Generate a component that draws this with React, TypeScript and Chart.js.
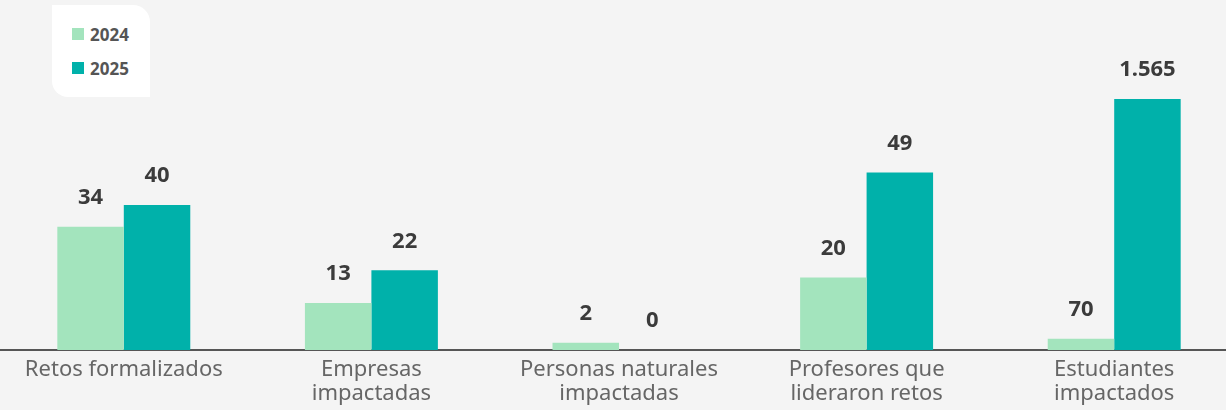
import React, { useEffect, useRef } from "react";
import { Chart, registerables } from "chart.js";

Chart.register(...registerables);

const categories: string[][] = [
  ["Retos formalizados"],
  ["Empresas", "impactadas"],
  ["Personas naturales", "impactadas"],
  ["Profesores que", "lideraron retos"],
  ["Estudiantes", "impactados"],
];
const seriesLabels = ["2024", "2025"];
const values2024 = [34, 13, 2, 20, 70];
const values2025 = [40, 22, 0, 49, 1565];
// categories drawn on the secondary (hidden) value axis
const secondaryIndexes = [4];
const colors = ["#a3e4bd", "#00b1aa"];

const FONT = "'Noto Sans', sans-serif";

function fmt(v: number): string {
  return String(v).replace(/\B(?=(\d{3})+(?!\d))/g, ".");
}

const valueLabels = {
  id: "valueLabels",
  afterDatasetsDraw(chart: any) {
    const ctx = chart.ctx;
    ctx.save();
    ctx.font = `bold 22px ${FONT}`;
    ctx.fillStyle = "#3b3b3b";
    ctx.textAlign = "center";
    ctx.textBaseline = "middle";
    chart.data.datasets.forEach((ds: any, di: number) => {
      const meta = chart.getDatasetMeta(di);
      meta.data.forEach((bar: any, i: number) => {
        const v = ds.data[i];
        if (v === null || v === undefined) return;
        ctx.fillText(fmt(v), bar.x, bar.y - 29);
      });
    });
    ctx.restore();
  },
};

export default function App() {
  const ref = useRef<HTMLCanvasElement | null>(null);

  useEffect(() => {
    document.body.style.margin = "0";
    document.body.style.background = "#f4f4f4";
    const series = [values2024, values2025];
    const datasets: any[] = [];
    series.forEach((vals, s) => {
      datasets.push({
        label: seriesLabels[s],
        data: vals.map((v, i) => (secondaryIndexes.includes(i) ? null : v)),
        backgroundColor: colors[s],
        stack: "s" + s,
        yAxisID: "y",
      });
    });
    series.forEach((vals, s) => {
      datasets.push({
        label: seriesLabels[s] + "b",
        data: vals.map((v, i) => (secondaryIndexes.includes(i) ? v : null)),
        backgroundColor: colors[s],
        stack: "s" + s,
        yAxisID: "y2",
      });
    });

    const chart = new Chart(ref.current!, {
      type: "bar",
      data: { labels: categories, datasets },
      options: {
        animation: false,
        responsive: false,
        maintainAspectRatio: false,
        layout: { padding: { top: 60, left: 0, right: 0, bottom: 0 } },
        datasets: { bar: { barPercentage: 1, categoryPercentage: 0.537 } },
        plugins: {
          legend: { display: false },
          tooltip: { enabled: false },
        },
        scales: {
          x: {
            grid: { display: false },
            border: { display: true, color: "#555555", width: 2 },
            ticks: {
              color: "#666666",
              font: { family: FONT, size: 22, lineHeight: 1.09 },
              padding: 0,
              maxRotation: 0,
              autoSkip: false,
            },
            afterFit: (scale: any) => {
              scale.height = 60;
            },
          },
          y: { display: false, min: 0, max: 80 },
          y2: { display: false, min: 0, max: 1808 },
        },
      } as any,
      plugins: [valueLabels],
    });
    return () => chart.destroy();
  }, []);

  return (
    <div style={{ position: "relative", width: 1226, height: 410, overflow: "hidden", background: "#f4f4f4", fontFamily: FONT }}>
      <canvas ref={ref} width={1238} height={410} style={{ display: "block" }} />
      <div
        style={{
          position: "absolute",
          left: 52,
          top: 5,
          width: 98,
          height: 92,
          background: "#ffffff",
          borderRadius: "0 17px 0 16px",
        }}
      >
        {seriesLabels.map((l, i) => (
          <div
            key={l}
            style={{
              position: "absolute",
              left: 20,
              top: 23 + i * 34,
              height: 12,
              display: "flex",
              alignItems: "center",
            }}
          >
            <span style={{ width: 12, height: 12, background: colors[i], display: "inline-block" }} />
            <span style={{ marginLeft: 6, fontSize: 17, fontWeight: 700, color: "#555555" }}>{l}</span>
          </div>
        ))}
      </div>
    </div>
  );
}
